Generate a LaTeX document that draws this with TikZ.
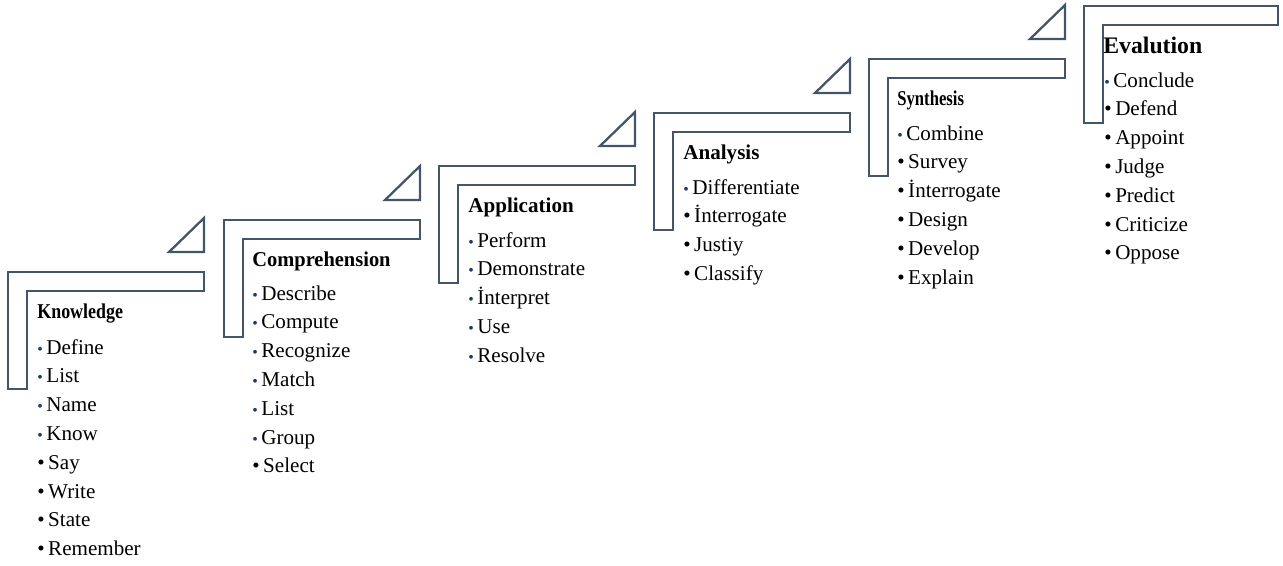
\documentclass[tikz,border=0pt]{standalone}
\usepackage{fontspec}
\setmainfont{Liberation Serif}
\definecolor{stairgray}{HTML}{44546A}
\definecolor{bulletnavy}{HTML}{203864}
\newcommand{\nb}{{\color{bulletnavy}\small\textbullet}\,}
\newcommand{\kb}{\textbullet\,}
\tikzset{
  stair/.style={draw=stairgray, line width=1.3pt, line join=miter},
  title/.style={anchor=base west, inner sep=0pt, font=\fontsize{12}{16.3}\selectfont\bfseries},
  items/.style={anchor=base west, inner sep=0pt, font=\fontsize{12}{16.4}\selectfont}
}
\begin{document}
\begin{tikzpicture}[x=0.02cm, y=-0.02cm]
\useasboundingbox (0,0) rectangle (1283,565);

\draw[stair] (8,272) -- ++(196,0) -- ++(0,19) -- ++(-177,0) -- ++(0,98) -- ++(-19,0) -- cycle;
\draw[stair] (224,220) -- ++(196,0) -- ++(0,19) -- ++(-177,0) -- ++(0,98) -- ++(-19,0) -- cycle;
\draw[stair] (439,166) -- ++(196,0) -- ++(0,19) -- ++(-177,0) -- ++(0,98) -- ++(-19,0) -- cycle;
\draw[stair] (654,113) -- ++(196,0) -- ++(0,19) -- ++(-177,0) -- ++(0,98) -- ++(-19,0) -- cycle;
\draw[stair] (869,59) -- ++(196,0) -- ++(0,19) -- ++(-177,0) -- ++(0,98) -- ++(-19,0) -- cycle;
\draw[stair] (1084,6) -- ++(194,0) -- ++(0,19) -- ++(-175,0) -- ++(0,98) -- ++(-19,0) -- cycle;

\draw[stair] (169,252) -- (204,252) -- (204,218) -- cycle;
\draw[stair] (385,200) -- (420,200) -- (420,166) -- cycle;
\draw[stair] (600,146) -- (635,146) -- (635,112) -- cycle;
\draw[stair] (815,93) -- (850,93) -- (850,59) -- cycle;
\draw[stair] (1030,39) -- (1065,39) -- (1065,5) -- cycle;

\node[title] (knowT) at (37,318) {\scalebox{0.85}[1]{Knowledge}};
\node[items] (knowL) at (37,354) {\begin{tabular}[t]{@{}l@{}}
\nb Define\\ \nb List\\ \nb Name\\ \nb Know\\ \kb Say\\ \kb Write\\ \kb State\\ \kb Remember
\end{tabular}};

\node[title] (compT) at (252,266) {\scalebox{0.97}[1]{Comprehension}};
\node[items] (compL) at (252,300) {\begin{tabular}[t]{@{}l@{}}
\nb Describe\\ \nb Compute\\ \nb Recognize\\ \nb Match\\ \nb List\\ \nb Group\\ \kb Select
\end{tabular}};

\node[title] (applT) at (468,212) {Application};
\node[items] (applL) at (468,247) {\begin{tabular}[t]{@{}l@{}}
\nb Perform\\ \nb Demonstrate\\ \nb İnterpret\\ \nb Use\\ \nb Resolve
\end{tabular}};

\node[title] (analT) at (683,159) {Analysis};
\node[items] (analL) at (683,194) {\begin{tabular}[t]{@{}l@{}}
\nb Differentiate\\ \kb İnterrogate\\ \kb Justiy\\ \kb Classify
\end{tabular}};

\node[title] (synT) at (897,105) {\scalebox{0.79}[1]{Synthesis}};
\node[items] (synL) at (897,140) {\begin{tabular}[t]{@{}l@{}}
\nb Combine\\ \kb Survey\\ \kb İnterrogate\\ \kb Design\\ \kb Develop\\ \kb Explain
\end{tabular}};

\node[title, font=\fontsize{13.5}{16.3}\selectfont\bfseries] (evalT) at (1103,53) {Evalution};
\node[items] (evalL) at (1104,87) {\begin{tabular}[t]{@{}l@{}}
\nb Conclude\\ \kb Defend\\ \kb Appoint\\ \kb Judge\\ \kb Predict\\ \kb Criticize\\ \kb Oppose
\end{tabular}};
\end{tikzpicture}
\end{document}
